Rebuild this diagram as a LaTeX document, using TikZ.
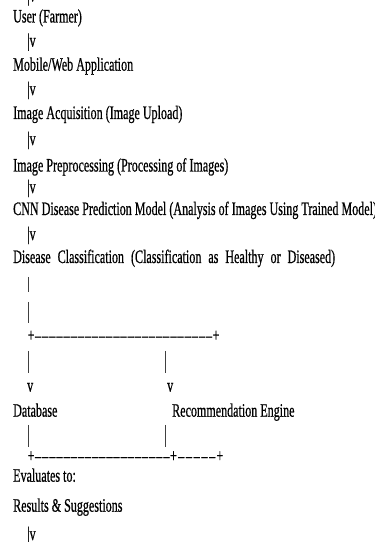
\documentclass[tikz,border=0pt]{standalone}
\usepackage{fontspec}
\usepackage{graphicx}
\setmainfont[FakeBold=0.8]{Liberation Serif}
\newcommand\cond[1]{\scalebox{0.635}[1]{#1}}
\newcommand\dsh{\xleaders\hbox to 11pt{\hss\char"2013\hss}\hfill}
\tikzset{
  txt/.style={inner sep=0pt, anchor=base west, font=\fontsize{19}{22}\selectfont},
  bar/.style={line width=0.6pt, black!75}
}
\begin{document}
\begin{tikzpicture}[x=1pt,y=1pt]
\useasboundingbox (0,0) rectangle (375,542);
\clip (0,0) rectangle (375,542);
\fill[white] (0,0) rectangle (375,542);
\node[txt] (t0) at (27,542-1.5) {\cond{|v}};
\node[txt] (user) at (13,542-22.5) {\cond{User (Farmer)}};
\node[txt] (a1) at (27,542-46.7) {\cond{|v}};
\node[txt] (app) at (13,542-70.7) {\cond{Mobile/Web Application}};
\node[txt] (a2) at (27,542-95) {\cond{|v}};
\node[txt] (acq) at (13,542-119) {\cond{Image Acquisition (Image Upload)}};
\node[txt] (a3) at (27,542-145) {\cond{|v}};
\node[txt] (pre) at (13,542-171.5) {\cond{Image Preprocessing (Processing of Images)}};
\node[txt] (a4) at (27,542-193) {\cond{|v}};
\node[txt] (cnn) at (13,542-215) {\cond{CNN Disease Prediction Model (Analysis of Images Using Trained Model)}};
\node[txt] (a5) at (27,542-240) {\cond{|v}};
\node[txt] (cls) at (13,542-263) {\cond{\makebox[507pt][s]{Disease Classification (Classification as Healthy or Diseased)}}};
\coordinate (b1t) at (28.5,542-277);
\coordinate (b1b) at (28.5,542-292);
\coordinate (b2t) at (28.5,542-302);
\coordinate (b2b) at (28.5,542-323);
\draw[bar] (b1t) -- (b1b);
\draw[bar] (b2t) -- (b2b);
\node[txt] (split) at (27.5,542-341.5) {\cond{\hbox to 302pt{+\dsh+}}};
\coordinate (b3t) at (28.5,542-351);
\coordinate (b3b) at (28.5,542-373);
\coordinate (b4t) at (165.5,542-351);
\coordinate (b4b) at (165.5,542-373);
\draw[bar] (b3t) -- (b3b);
\draw[bar] (b4t) -- (b4b);
\node[txt] (v1) at (27,542-391.7) {\cond{v}};
\node[txt] (v2) at (167,542-391.7) {\cond{v}};
\node[txt] (db) at (13,542-416.7) {\cond{Database}};
\node[txt] (rec) at (172,542-416.7) {\cond{Recommendation Engine}};
\coordinate (b5t) at (28.5,542-425);
\coordinate (b5b) at (28.5,542-447);
\coordinate (b6t) at (165.5,542-425);
\coordinate (b6b) at (165.5,542-447);
\draw[bar] (b5t) -- (b5b);
\draw[bar] (b6t) -- (b6b);
\node[txt] (join) at (27.5,542-462) {\cond{\hbox to 235pt{+\dsh+}\hbox to 73pt{\dsh+}}};
\node[txt] (eval) at (13,542-481.7) {\cond{Evaluates to:}};
\node[txt] (res) at (13,542-511.7) {\cond{Results \& Suggestions}};
\node[txt] (a6) at (27,542-540) {\cond{|v}};
\end{tikzpicture}
\end{document}
